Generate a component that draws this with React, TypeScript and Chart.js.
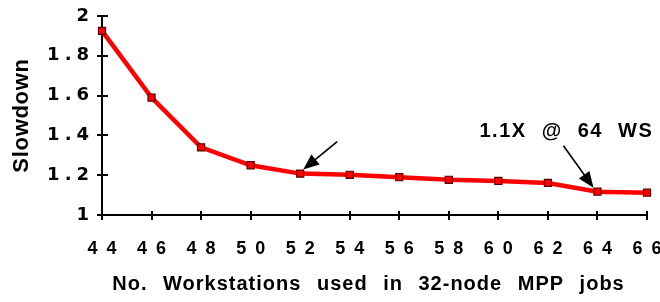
import React, { useEffect, useRef } from 'react';
import { Chart, registerables } from 'chart.js';

Chart.register(...registerables);

// ---- data ----
const workstations: string[] = ['44', '46', '48', '50', '52', '54', '56', '58', '60', '62', '64', '66'];
const slowdown: number[] = [1.925, 1.59, 1.34, 1.25, 1.208, 1.202, 1.19, 1.177, 1.171, 1.161, 1.117, 1.112];
const yTickValues: number[] = [1, 1.2, 1.4, 1.6, 1.8, 2];
const yTitle = 'Slowdown';
const xTitle = 'No. Workstations used in 32-node MPP jobs';
const noteText = '1.1X @ 64 WS';
const noteCategory = '64';
const plainArrowCategory = '52';

const FONT = '"Liberation Sans", Arial, sans-serif';
const WIDE_FONT = '"DejaVu Sans", sans-serif';

// per-scale text spacing (letter, word) for tick labels and titles, plus title shift
const spacing: Record<string, { ticks: string; title: string; titleWords: string; titleShift: number }> = {
  x: { ticks: '9px', title: '1px', titleWords: '9px', titleShift: -6 },
  y: { ticks: '5px', title: '0.7px', titleWords: '0px', titleShift: 0 },
};

function drawArrow(ctx: CanvasRenderingContext2D, x0: number, y0: number, x1: number, y1: number) {
  const dx = x1 - x0;
  const dy = y1 - y0;
  const len = Math.hypot(dx, dy);
  const ux = dx / len;
  const uy = dy / len;
  const headLen = 16;
  const headHalf = 6.5;
  const bx = x1 - ux * headLen;
  const by = y1 - uy * headLen;
  ctx.save();
  ctx.strokeStyle = '#000';
  ctx.fillStyle = '#000';
  ctx.lineWidth = 1.6;
  ctx.beginPath();
  ctx.moveTo(x0, y0);
  ctx.lineTo(bx + ux * 2, by + uy * 2);
  ctx.stroke();
  ctx.beginPath();
  ctx.moveTo(x1, y1);
  ctx.lineTo(bx - uy * headHalf, by + ux * headHalf);
  ctx.lineTo(bx + uy * headHalf, by - ux * headHalf);
  ctx.closePath();
  ctx.fill();
  ctx.restore();
}

const stylePlugin = {
  id: 'styleAndNotes',
  beforeDraw(chart: any) {
    const ctx = chart.ctx as any;
    Object.keys(spacing).forEach((id) => {
      const scale = chart.scales[id];
      if (!scale || scale.__spaced) return;
      scale.__spaced = true;
      const origLabels = scale.drawLabels;
      const origTitle = scale.drawTitle;
      scale.drawLabels = function (area: any) {
        ctx.letterSpacing = spacing[id].ticks;
        ctx.wordSpacing = '0px';
        origLabels.call(this, area);
        ctx.letterSpacing = '0px';
      };
      scale.drawTitle = function () {
        ctx.save();
        ctx.translate(spacing[id].titleShift, 0);
        ctx.letterSpacing = spacing[id].title;
        ctx.wordSpacing = spacing[id].titleWords;
        origTitle.call(this);
        ctx.restore();
        ctx.letterSpacing = '0px';
        ctx.wordSpacing = '0px';
      };
    });
  },
  afterDraw(chart: any) {
    const ctx = chart.ctx as CanvasRenderingContext2D;
    (ctx as any).letterSpacing = '0px';
    (ctx as any).wordSpacing = '0px';
    const xs = chart.scales.x;
    const ys = chart.scales.y;
    const area = chart.chartArea;

    // crossing tick marks
    ctx.save();
    ctx.strokeStyle = '#000';
    ctx.lineWidth = 2;
    ctx.beginPath();
    ys.ticks.forEach((_t: any, i: number) => {
      const py = Math.round(ys.getPixelForTick(i));
      ctx.moveTo(area.left - 5, py);
      ctx.lineTo(area.left + 6, py);
    });
    xs.ticks.forEach((_t: any, i: number) => {
      const px = Math.round(xs.getPixelForTick(i));
      ctx.moveTo(px, area.bottom - 4);
      ctx.lineTo(px, area.bottom + 5);
    });
    ctx.stroke();
    ctx.restore();

    // arrow pointing at the 52 point
    const iA = workstations.indexOf(plainArrowCategory);
    const ax = xs.getPixelForValue(iA);
    const ay = ys.getPixelForValue(slowdown[iA]);
    drawArrow(ctx, ax + 37, ay - 32, ax + 3, ay - 4);

    // arrow + note for the 64 point
    const iB = workstations.indexOf(noteCategory);
    const bx = xs.getPixelForValue(iB);
    const by = ys.getPixelForValue(slowdown[iB]);
    drawArrow(ctx, bx - 34, by - 46, bx - 4, by - 4);

    ctx.save();
    (ctx as any).letterSpacing = '1.5px';
    (ctx as any).wordSpacing = '8px';
    ctx.font = `bold 20px ${FONT}`;
    ctx.fillStyle = '#000';
    ctx.textAlign = 'left';
    ctx.textBaseline = 'alphabetic';
    ctx.fillText(noteText, bx - 118, by - 55);
    ctx.restore();
    (ctx as any).letterSpacing = '0px';
    (ctx as any).wordSpacing = '0px';
  },
};

export default function App() {
  const canvasRef = useRef<HTMLCanvasElement | null>(null);

  useEffect(() => {
    const canvas = canvasRef.current;
    if (!canvas) return;
    const chart = new Chart(canvas, {
      type: 'line',
      data: {
        labels: workstations,
        datasets: [
          {
            label: yTitle,
            data: slowdown,
            borderColor: '#ff0000',
            borderWidth: 4.5,
            backgroundColor: '#ff0000',
            pointStyle: 'rect',
            pointRadius: 5,
            pointBorderColor: '#5a0000',
            pointBorderWidth: 1.2,
            pointBackgroundColor: '#ff0000',
            tension: 0,
            fill: false,
          },
        ],
      },
      options: {
        animation: false,
        responsive: false,
        devicePixelRatio: 1,
        layout: { padding: { top: 16, right: 13, left: 0, bottom: 0 } },
        plugins: {
          legend: { display: false },
          tooltip: { enabled: false },
        },
        scales: {
          x: {
            type: 'category',
            offset: false,
            grid: { display: false, drawTicks: false },
            border: { display: true, color: '#000', width: 2 },
            ticks: {
              color: '#000',
              font: { family: FONT, size: 18, weight: 'bold' },
              padding: 23,
              labelOffset: 4.5,
              maxRotation: 0,
              autoSkip: false,
            },
            title: {
              display: true,
              text: xTitle,
              color: '#000',
              font: { family: FONT, size: 20, weight: 'bold' },
              padding: { top: 0, bottom: 6 },
            },
            afterFit: (s: any) => {
              s.height = 87;
              s.paddingLeft = 0;
              s.paddingRight = 0;
            },
          },
          y: {
            type: 'linear',
            min: 1,
            max: 2,
            grid: { display: false, drawTicks: false },
            border: { display: true, color: '#000', width: 2 },
            afterBuildTicks: (s: any) => {
              s.ticks = yTickValues.map((v) => ({ value: v }));
            },
            ticks: {
              color: '#000',
              font: { family: WIDE_FONT, size: 18, weight: 'bold' },
              padding: 8,
              callback: (v: any) => String(v),
            },
            title: {
              display: true,
              text: yTitle,
              color: '#000',
              font: { family: FONT, size: 22, weight: 'bold' },
              padding: { top: 9, bottom: 0 },
            },
            afterFit: (s: any) => {
              s.width = 102;
              s.paddingTop = 0;
              s.paddingBottom = 0;
            },
          },
        },
      },
      plugins: [stylePlugin],
    } as any);
    return () => chart.destroy();
  }, []);

  return (
    <div style={{ position: 'absolute', left: 0, top: 0, width: 660, height: 302, background: '#fff' }}>
      <canvas ref={canvasRef} width={660} height={302} />
    </div>
  );
}
